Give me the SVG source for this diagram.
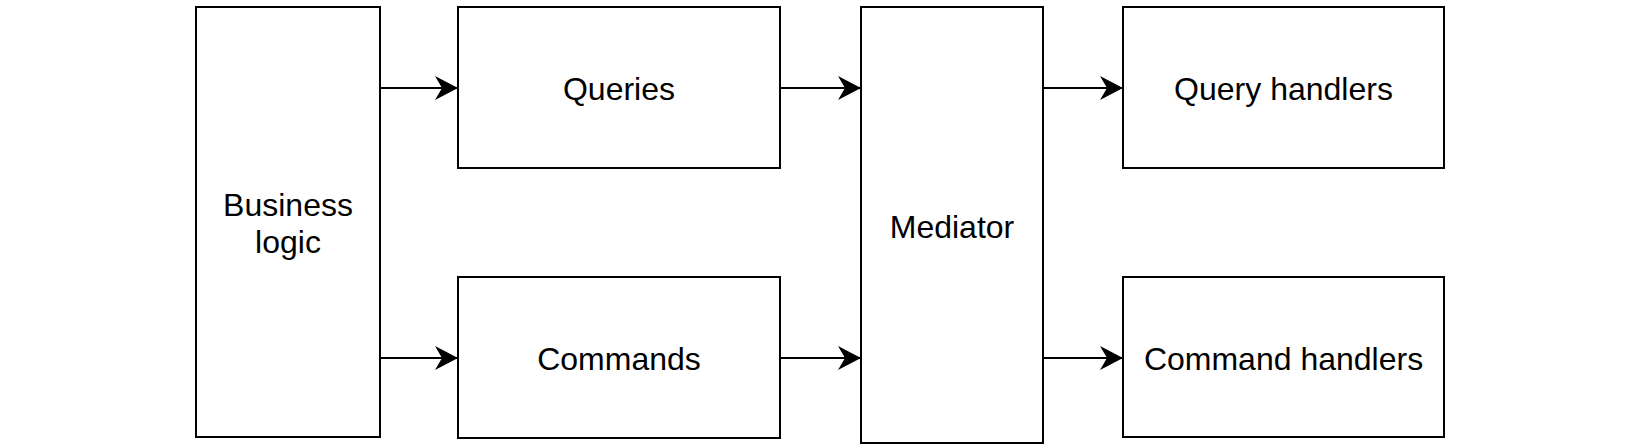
<svg xmlns="http://www.w3.org/2000/svg" width="1639" height="445" viewBox="0 0 1639 445">
  <style>
    .box { fill: #ffffff; stroke: #000000; stroke-width: 2; }
    .lbl { font-family: "Liberation Sans", Arial, sans-serif; font-size: 32px; fill: #000000; text-anchor: middle; }
    .edge { stroke: #000000; stroke-width: 2; fill: none; marker-end: url(#arrow); }
  </style>
  <defs>
    <marker id="arrow" markerUnits="userSpaceOnUse" markerWidth="24" markerHeight="26" viewBox="0 0 24 26" refX="23" refY="13" orient="auto">
      <path d="M0,1 L23,13 L0,25 L7,13 Z" fill="#000000"/>
    </marker>
  </defs>
  <rect x="0" y="0" width="1639" height="445" fill="#ffffff"/>
  <g id="business-logic">
    <rect class="box" x="196" y="7" width="184" height="430"/>
    <text class="lbl" x="288" y="216">Business</text>
    <text class="lbl" x="288" y="253">logic</text>
  </g>
  <g id="queries">
    <rect class="box" x="458" y="7" width="322" height="161"/>
    <text class="lbl" x="619" y="100">Queries</text>
  </g>
  <g id="commands">
    <rect class="box" x="458" y="277" width="322" height="161"/>
    <text class="lbl" x="619" y="370">Commands</text>
  </g>
  <g id="mediator">
    <rect class="box" x="861" y="7" width="182" height="436"/>
    <text class="lbl" x="952" y="238">Mediator</text>
  </g>
  <g id="query-handlers">
    <rect class="box" x="1123" y="7" width="321" height="161"/>
    <text class="lbl" x="1283.5" y="100">Query handlers</text>
  </g>
  <g id="command-handlers">
    <rect class="box" x="1123" y="277" width="321" height="160"/>
    <text class="lbl" x="1283.5" y="370">Command handlers</text>
  </g>
  <g id="connectors">
    <line class="edge" x1="380" y1="88" x2="458" y2="88"/>
    <line class="edge" x1="380" y1="358" x2="458" y2="358"/>
    <line class="edge" x1="780" y1="88" x2="861" y2="88"/>
    <line class="edge" x1="780" y1="358" x2="861" y2="358"/>
    <line class="edge" x1="1043" y1="88" x2="1123" y2="88"/>
    <line class="edge" x1="1043" y1="358" x2="1123" y2="358"/>
  </g>
</svg>
